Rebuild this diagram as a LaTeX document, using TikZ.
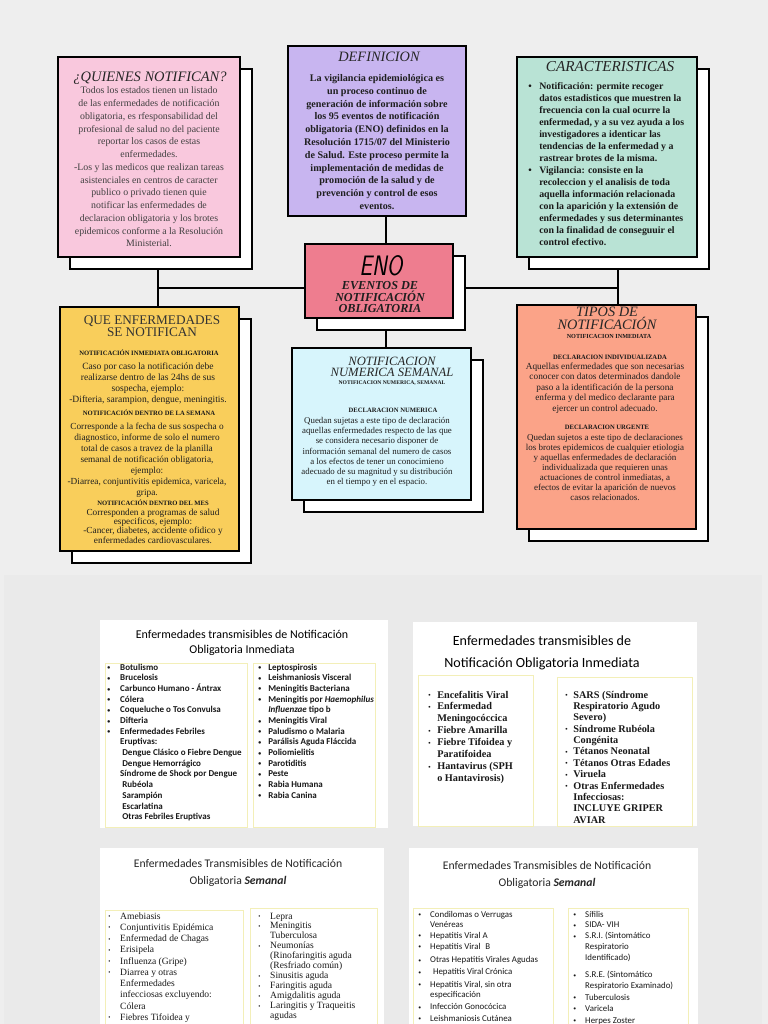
\documentclass[tikz,border=0pt]{standalone}
\usepackage{fontspec}
\setmainfont{Liberation Serif}
\newfontfamily\calib{Carlito}
\usetikzlibrary{positioning,shadows}

\definecolor{paper}{HTML}{EEEEEE}
\definecolor{paperlow}{HTML}{EAEAEA}
\definecolor{pinkbox}{HTML}{F9C8DD}
\definecolor{lilacbox}{HTML}{C8B5F0}
\definecolor{mintbox}{HTML}{B9E3D5}
\definecolor{rosebox}{HTML}{EE7D8F}
\definecolor{goldbox}{HTML}{F9CE5B}
\definecolor{skybox}{HTML}{D7F5FC}
\definecolor{peachbox}{HTML}{FBA388}
\definecolor{colline}{HTML}{F3EFB8}

\newcommand\dotmark{\raisebox{0.1ex}{\scalebox{0.65}{\textbullet}}}

\pgfdeclarelayer{background}
\pgfsetlayers{background,main}

\begin{document}
\begin{tikzpicture}[x=0.025cm, y=-0.025cm,
box/.style={draw, line width=2pt, inner sep=0pt},
boxshadow/.style={copy shadow={shadow xshift=0.3cm, shadow yshift=-0.3cm, fill=white, draw=black, line width=2pt}},
link/.style={line width=2pt},
head/.style={font=\itshape\fontsize{10.3}{9.2}\selectfont, text=black!85, inner sep=0pt, align=center},
body/.style={inner sep=0pt, align=center, text=black!88},
tag/.style={font=\bfseries\fontsize{4.7}{5}\selectfont, inner sep=0pt, text=black!90},
panel/.style={fill=white, inner sep=0pt},
column/.style={draw=colline, line width=0.6pt, fill=white, inner sep=0pt},
lst/.style={inner sep=0pt, anchor=base west, text=black!90}
]
\useasboundingbox (0,0) rectangle (768,1024);
\begin{pgfonlayer}{background}
\fill[paper] (0,0) rectangle (768,1024);
\fill[paperlow] (4,575) rectangle (762,1024);
\end{pgfonlayer}

% upper map
\node[box, boxshadow, fill=pinkbox, minimum width=4.55cm, minimum height=5cm] (quienes) at (149,157) {};
\node[head] (quienes-head) at (150,78) {¿QUIENES NOTIFICAN?};
\node[body, text=black!75, font=\fontsize{7}{9.07}\selectfont] (quienes-text) at (149,167) {Todos los estados tienen un listado\\de las enfermedades de notificación\\obligatoria, es rfesponsabilidad del\\profesional de salud no del paciente\\reportar los casos de estas\\enfermedades.\\-Los y las medicos que realizan tareas\\asistenciales en centros de caracter\\publico o privado tienen quie\\notificar las enfermedades de\\declaracion obligatoria y los brotes\\epidemicos conforme a la Resolución\\Ministerial.};

\node[box, fill=lilacbox, minimum width=4.45cm, minimum height=4.25cm] (defin) at (377,131) {};
\node[head, font=\itshape\fontsize{10.2}{10}\selectfont] (defin-head) at (379,57) {DEFINICION};
\node[body, font=\bfseries\fontsize{7.2}{9.1}\selectfont] (defin-text) at (377,142) {La vigilancia epidemiológica es\\un proceso continuo de\\generación de información sobre\\los 95 eventos de notificación\\obligatoria (ENO) definidos en la\\Resolución 1715/07 del Ministerio\\de Salud. Este proceso permite la\\implementación de medidas de\\promoción de la salud y de\\prevención y control de esos\\eventos.};

\node[box, boxshadow, fill=mintbox, minimum width=4.5cm, minimum height=5cm] (caract) at (607,157) {};
\node[head, font=\itshape\fontsize{10.8}{10}\selectfont] (caract-head) at (610,67) {CARACTERISTICAS};
\node[lst, font=\bfseries\fontsize{7}{8.53}\selectfont] (caract-text) at (528,90) {\begin{tabular}[t]{@{}p{7.8pt}@{}l@{}}
\textbullet & Notificación: permite recoger\\
 & datos estadisticos que muestren la\\
 & frecuencia con la cual ocurre la\\
 & enfermedad, y a su vez ayuda a los\\
 & investigadores a identicar las\\
 & tendencias de la enfermedad y a\\
 & rastrear brotes de la misma.\\
\textbullet & Vigilancia: consiste en la\\
 & recoleccion y el analisis de toda\\
 & aquella información relacionada\\
 & con la aparición y la extensión de\\
 & enfermedades y sus determinantes\\
 & con la finalidad de conseguuir el\\
 & control efectivo.
\end{tabular}};

\node[box, boxshadow, fill=rosebox, minimum width=3.7cm, minimum height=1.85cm] (eno) at (379,281) {};
\node[inner sep=0pt, font=\sffamily\itshape\fontsize{20}{20}\selectfont] (eno-acr) at (381,266) {\scalebox{0.8}[1]{ENO}};
\node[body, font=\bfseries\itshape\fontsize{8.7}{7.2}\selectfont] (eno-name) at (380,297) {EVENTOS DE\\NOTIFICACIÓN\\OBLIGATORIA};

\node[box, boxshadow, fill=goldbox, minimum width=4.475cm, minimum height=6.1cm] (queenf) at (149.5,429) {};
\node[body, font=\fontsize{9.4}{8.5}\selectfont, text=black!80] (queenf-head) at (152,326) {QUE ENFERMEDADES\\SE NOTIFICAN};
\node[tag] (queenf-tag1) at (149,353) {NOTIFICACIÓN INMEDIATA OBLIGATORIA};
\node[body, font=\fontsize{6.8}{7.8}\selectfont] (queenf-text1) at (148,384) {Caso por caso la notificación debe\\realizarse dentro de las 24hs de sus\\sospecha, ejemplo:\\-Difteria, sarampion, dengue, meningitis.};
\node[tag] (queenf-tag2) at (149,413) {NOTIFICACIÓN DENTRO DE LA SEMANA};
\node[body, font=\fontsize{6.6}{7.8}\selectfont] (queenf-text2) at (147,460) {Corresponde a la fecha de sus sospecha o\\diagnostico, informe de solo el numero\\total de casos a travez de la planilla\\semanal de notificación obligatoria,\\ejemplo:\\-Diarrea, conjuntivitis epidemica, varicela,\\gripa.};
\node[tag] (queenf-tag3) at (153,503) {NOTIFICACIÓN DENTRO DEL MES};
\node[body, font=\fontsize{6.6}{6.6}\selectfont] (queenf-text3) at (153,526) {Corresponden a programas de salud\\especificos, ejemplo:\\-Cancer, diabetes, accidente ofidico y\\enfermedades cardiovasculares.};

\node[box, boxshadow, fill=skybox, minimum width=4.475cm, minimum height=3.8cm] (semanal) at (381.5,424) {};
\node[head, font=\itshape\fontsize{9}{7.8}\selectfont] (semanal-head) at (392,367) {NOTIFICACION\\NUMERICA SEMANAL};
\node[tag, font=\bfseries\fontsize{4}{5}\selectfont] (semanal-tag) at (392,383) {NOTIFICACION NUMERICA, SEMANAL};
\node[tag] (semanal-decl) at (393,410) {DECLARACION NUMERICA};
\node[body, font=\fontsize{6.3}{7.25}\selectfont] (semanal-text) at (377,452) {Quedan sujetas a este tipo de declaración\\aquellas enfermedades respecto de las que\\se considera necesario disponer de\\información semanal del numero de casos\\a los efectos de tener un conocimieno\\adecuado de su magnitud y su distribución\\en el tiempo y en el espacio.};

\node[box, boxshadow, fill=peachbox, minimum width=4.475cm, minimum height=5.6cm] (tipos) at (606.5,417) {};
\node[head, font=\itshape\fontsize{10.2}{9.2}\selectfont] (tipos-head) at (607,318) {TIPOS DE\\NOTIFICACIÓN};
\node[tag, font=\bfseries\fontsize{4.4}{5}\selectfont] (tipos-tag) at (609,336) {NOTIFICACION INMEDIATA};
\node[tag] (tipos-decl1) at (610,357) {DECLARACION INDIVIDUALIZADA};
\node[body, font=\fontsize{6.6}{7.4}\selectfont] (tipos-text1) at (605,388) {Aquellas enfermedades que son necesarias\\conocer con datos determinados dandole\\paso a la identificación de la persona\\enferma y del medico declarante para\\ejercer un control adecuado.};
\node[tag] (tipos-decl2) at (607,427) {DECLARACION URGENTE};
\node[body, font=\fontsize{6.4}{7.1}\selectfont] (tipos-text2) at (605,467) {Quedan sujetos a este tipo de declaraciones\\los brotes epidemicos de cualquier etiologia\\y aquellas enfermedades de declaración\\individualizada que requieren unas\\actuaciones de control inmediatas, a\\efectos de evitar la aparición de nuevos\\casos relacionados.};

% connectors
\coordinate (jl) at (158,288);
\coordinate (jc) at (386,288);
\coordinate (jr) at (618,288);
\begin{pgfonlayer}{background}
\draw[link] (quienes.south -| jl) -- (queenf.north -| jl);
\draw[link] (jl) -- (eno.west |- jl);
\draw[link] (eno.east |- jr) -- (jr);
\draw[link] (caract.south -| jr) -- (tipos.north -| jr);
\draw[link] (defin.south -| jc) -- (eno.north -| jc);
\draw[link] (eno.south -| jc) -- (semanal.north -| jc);
\end{pgfonlayer}

% lower slides
\node[panel, minimum width=7.2cm, minimum height=5.2cm] (panel1) at (244,724) {};
\node[column, minimum width=3.55cm, minimum height=4.1cm] (panel1-left) at (176,745) {};
\node[column, minimum width=3.05cm, minimum height=4.1cm] (panel1-right) at (314,745) {};
\node[font=\calib\fontsize{8.5}{10.7}\selectfont, align=center, inner sep=0pt] (panel1-head) at (242,643) {Enfermedades transmisibles de Notificación\\Obligatoria Inmediata};
\node[lst, font=\calib\bfseries\fontsize{6.4}{7.6}\selectfont] (panel1-list1) at (107,670) {\begin{tabular}[t]{@{}p{9.2pt}@{}l@{}}
\dotmark & Botulismo\\
\dotmark & Brucelosis\\
\dotmark & Carbunco Humano - Ántrax\\
\dotmark & Cólera\\
\dotmark & Coqueluche o Tos Convulsa\\
\dotmark & Difteria\\
\dotmark & Enfermedades Febriles\\
 & Eruptivas:\\
 & \hspace{1.5pt}Dengue Clásico o Fiebre Dengue\\
 & \hspace{1.5pt}Dengue Hemorrágico\\
 & Síndrome de Shock por Dengue\\
 & \hspace{1.5pt}Rubéola\\
 & \hspace{1.5pt}Sarampión\\
 & \hspace{1.5pt}Escarlatina\\
 & \hspace{1.5pt}Otras Febriles Eruptivas
\end{tabular}};
\node[lst, font=\calib\bfseries\fontsize{6.4}{7.6}\selectfont] (panel1-list2) at (258,670) {\begin{tabular}[t]{@{}p{7.1pt}@{}l@{}}
\dotmark & Leptospirosis\\
\dotmark & Leishmaniosis Visceral\\
\dotmark & Meningitis Bacteriana\\
\dotmark & Meningitis por \textit{Haemophilus}\\
 & \textit{Influenzae} tipo b\\
\dotmark & Meningitis Viral\\
\dotmark & Paludismo o Malaria\\
\dotmark & Parálisis Aguda Fláccida\\
\dotmark & Poliomielitis\\
\dotmark & Parotiditis\\
\dotmark & Peste\\
\dotmark & Rabia Humana\\
\dotmark & Rabia Canina
\end{tabular}};

\node[panel, minimum width=7.1cm, minimum height=5.1cm] (panel2) at (555,724) {};
\node[column, minimum width=2.875cm, minimum height=3.775cm] (panel2-left) at (475.5,750.5) {};
\node[column, minimum width=3.375cm, minimum height=3.725cm] (panel2-right) at (624.5,751.5) {};
\node[font=\calib\fontsize{10}{16}\selectfont, align=center, inner sep=0pt] (panel2-head) at (542,653) {Enfermedades transmisibles de\\Notificación Obligatoria Inmediata};
\node[lst, font=\bfseries\fontsize{7.3}{8.5}\selectfont] (panel2-list1) at (428,698) {\begin{tabular}[t]{@{}p{6.4pt}@{}l@{}}
\dotmark & Encefalitis Viral\\
\dotmark & Enfermedad\\
 & Meningocóccica\\
\dotmark & Fiebre Amarilla\\
\dotmark & Fiebre Tifoidea y\\
 & Paratifoidea\\
\dotmark & Hantavirus (SPH\\
 & o Hantavirosis)
\end{tabular}};
\node[lst, font=\bfseries\fontsize{7.3}{8.1}\selectfont] (panel2-list2) at (565,698) {\begin{tabular}[t]{@{}p{5.7pt}@{}l@{}}
\dotmark & SARS (Síndrome\\
 & Respiratorio Agudo\\
 & Severo)\\
\dotmark & Síndrome Rubéola\\
 & Congénita\\
\dotmark & Tétanos Neonatal\\
\dotmark & Tétanos Otras Edades\\
\dotmark & Viruela\\
\dotmark & Otras Enfermedades\\
 & Infecciosas:\\
 & INCLUYE GRIPER\\
 & AVIAR
\end{tabular}};

\node[panel, minimum width=7.1cm, minimum height=4.55cm] (panel3) at (242,939) {};
\node[column, minimum width=3.45cm, minimum height=3cm] (panel3-left) at (174,970) {};
\node[column, minimum width=3.175cm, minimum height=3.05cm] (panel3-right) at (313.5,969) {};
\node[font=\calib\fontsize{8.3}{12}\selectfont, align=center, inner sep=0pt, text=black!85] (panel3-head) at (238,873) {Enfermedades Transmisibles de Notificación\\Obligatoria \textbf{\textit{Semanal}}};
\node[lst, font=\fontsize{6.8}{8}\selectfont] (panel3-list1) at (108,919) {\begin{tabular}[t]{@{}p{8.5pt}@{}l@{}}
\dotmark & Amebiasis\\
\dotmark & Conjuntivitis Epidémica\\
\dotmark & Enfermedad de Chagas\\
\dotmark & Erisipela\\
\dotmark & Influenza (Gripe)\\
\dotmark & Diarrea y otras\\
 & Enfermedades\\
 & infecciosas excluyendo:\\
 & Cólera\\
\dotmark & Fiebres Tifoidea y
\end{tabular}};
\node[lst, font=\fontsize{6.8}{7.1}\selectfont] (panel3-list2) at (258,919) {\begin{tabular}[t]{@{}p{8.5pt}@{}l@{}}
\dotmark & Lepra\\
\dotmark & Meningitis\\
 & Tuberculosa\\
\dotmark & Neumonías\\
 & (Rinofaringitis aguda\\
 & (Resfriado común)\\
\dotmark & Sinusitis aguda\\
\dotmark & Faringitis aguda\\
\dotmark & Amigdalitis aguda\\
\dotmark & Laringitis y Traqueitis\\
 & agudas
\end{tabular}};

\node[panel, minimum width=7.225cm, minimum height=4.55cm] (panel4) at (553.5,939) {};
\node[column, minimum width=3.5cm, minimum height=3.05cm] (panel4-left) at (483,969) {};
\node[column, minimum width=3cm, minimum height=3.05cm] (panel4-right) at (628,969) {};
\node[font=\calib\fontsize{8.3}{12}\selectfont, align=center, inner sep=0pt, text=black!85] (panel4-head) at (547,875) {Enfermedades Transmisibles de Notificación\\Obligatoria \textbf{\textit{Semanal}}};
\node[lst, font=\calib\fontsize{6.3}{7.6}\selectfont] (panel4-list1) at (418,917) {\begin{tabular}[t]{@{}p{8.5pt}@{}l@{}}
\dotmark & Condilomas o Verrugas\\
 & Venéreas\\
\dotmark & Hepatitis Viral A\\
\dotmark & Hepatitis Viral\hspace{2pt} B\\[2.2pt]
\dotmark & Otras Hepatitis Virales Agudas\\[1pt]
\dotmark & \hspace{2pt}Hepatitis Viral Crónica\\[1pt]
\dotmark & Hepatitis Viral, sin otra\\
 & especificación\\[1pt]
\dotmark & Infección Gonocócica\\[0.6pt]
\dotmark & Leishmaniosis Cutánea
\end{tabular}};
\node[lst, font=\calib\fontsize{6.3}{7.8}\selectfont] (panel4-list2) at (573,917) {\begin{tabular}[t]{@{}p{8.5pt}@{}l@{}}
\dotmark & Sífilis\\
\dotmark & SIDA- VIH\\
\dotmark & S.R.I. (Sintomático\\
 & Respiratorio\\
 & Identificado)\\[4pt]
\dotmark & S.R.E. (Sintomático\\
 & Respiratorio Examinado)\\[0.7pt]
\dotmark & Tuberculosis\\
\dotmark & Varicela\\[0.7pt]
\dotmark & Herpes Zoster
\end{tabular}};
\end{tikzpicture}
\end{document}
